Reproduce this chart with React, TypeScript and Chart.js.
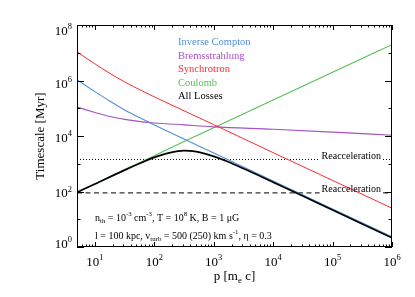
import React, { useEffect, useRef } from 'react';
import { Chart, registerables } from 'chart.js';

Chart.register(...registerables);

// ---- data (timescales in Myr vs momentum p in m_e c) ----
const RAD_P = [5, 10, 17.8, 31.6, 63.1, 100, 316, 1000, 1e4, 1e5, 1e6];
const SYNC_T = [1.07e7, 3.98e6, 1.82e6, 8.9e5, 4.17e5, 2.57e5, 8.1e4, 2.57e4, 2.51e3, 251, 25.1];
const IC_T = [1.05e6, 3.98e5, 1.82e5, 8.7e4, 4.07e4, 2.51e4, 7.76e3, 2.45e3, 240, 23.4, 2.34];
const BREMS_T = [1.1e5, 7.08e4, 5.01e4, 3.98e4, 3.24e4, 2.95e4, 2.51e4, 2.14e4, 1.74e4, 1.38e4, 1.07e4];
const COUL_P = [5, 10, 31.6, 100, 316, 1000, 1e4, 1e5, 1e6];
const COUL_T = [93, 188, 603, 1950, 6310, 2.0e4, 2.0e5, 2.0e6, 1.95e7];
const ALL_P = [5, 10, 31.6, 63.1, 100, 126, 178, 251, 316, 398, 562, 1000, 1778, 3162, 1e4, 3.16e4, 1e5, 3.16e5, 1e6];
const ALL_T = [93, 186, 589, 1130, 1694, 2010, 2477, 2843, 2951, 2897, 2612, 1841, 1148, 670, 216, 68.4, 21.4, 6.78, 2.14];
const REACC_FAST = 89;
const REACC_SLOW = 1430;
const X_RANGE = [5, 1e6];
const Y_RANGE = [1, 1e8];
const X_LABEL_EXP = [1, 2, 3, 4, 5, 6];
const Y_LABEL_EXP = [0, 2, 4, 6, 8];
const LEGEND_LABELS = ['Inverse Compton', 'Bremsstrahlung', 'Synchrotron', 'Coulomb', 'All Losses'];

const C_IC = '#4f8fd6';
const C_BREMS = '#a552c2';
const C_SYNC = '#ff2a2a';
const C_COUL = '#55c055';
const C_ALL = '#000000';
const LEGEND_COLORS = [C_IC, C_BREMS, C_SYNC, C_COUL, C_ALL];

const FONT = '"Liberation Serif", "Times New Roman", serif';

type Seg = [string, 'n' | 'sup' | 'sub'];

function drawRich(
  ctx: CanvasRenderingContext2D,
  segs: Seg[],
  x: number,
  y: number,
  size: number,
  align: 'left' | 'center' | 'right',
  color: string,
  small = 0.68,
  raise = 0.42,
  drop = 0.25
) {
  ctx.save();
  ctx.fillStyle = color;
  ctx.textBaseline = 'alphabetic';
  ctx.textAlign = 'left';
  const fontFor = (k: string) => `${k === 'n' ? size : size * small}px ${FONT}`;
  let total = 0;
  for (const [t, k] of segs) {
    ctx.font = fontFor(k);
    total += ctx.measureText(t).width;
  }
  let cx = align === 'left' ? x : align === 'center' ? x - total / 2 : x - total;
  for (const [t, k] of segs) {
    ctx.font = fontFor(k);
    const dy = k === 'sup' ? -size * raise : k === 'sub' ? size * drop : 0;
    ctx.fillText(t, cx, y + dy);
    cx += ctx.measureText(t).width;
  }
  ctx.restore();
  return total;
}

const REACC_TEXT = 'Reacceleration';
const REACC_RIGHT = 381;
const REACC_SIZE = 10;

const overlay = {
  id: 'overlay',
  afterDatasetDraw(chart: any, args: any) {
    if (args.index !== 5 && args.index !== 6) return;
    const { ctx, scales } = chart;
    const val = args.index === 5 ? REACC_FAST : REACC_SLOW;
    const py = scales.y.getPixelForValue(val);
    ctx.save();
    ctx.font = `${REACC_SIZE}px ${FONT}`;
    const w = ctx.measureText(REACC_TEXT).width;
    ctx.fillStyle = '#ffffff';
    ctx.fillRect(REACC_RIGHT - w - 2, py - 9, w + 4, 10.5);
    ctx.restore();
  },
  afterDraw(chart: any) {
    const { ctx, chartArea: a, scales } = chart;
    const xs = scales.x;
    const ys = scales.y;
    ctx.save();
    ctx.strokeStyle = '#000';
    ctx.lineWidth = 1;
    // frame
    ctx.strokeRect(a.left + 0.5, a.top + 0.5, a.right - a.left - 1, a.bottom - a.top - 1);
    // x ticks
    ctx.beginPath();
    for (let n = 0; n <= 6; n++) {
      for (let m = 1; m <= 9; m++) {
        const v = m * Math.pow(10, n);
        if (v < X_RANGE[0] || v > X_RANGE[1]) continue;
        const px = Math.round(xs.getPixelForValue(v)) + 0.5;
        const len = m === 1 ? 5 : 2.5;
        ctx.moveTo(px, a.bottom);
        ctx.lineTo(px, a.bottom - len);
        ctx.moveTo(px, a.top);
        ctx.lineTo(px, a.top + len);
      }
    }
    // y ticks
    for (let n = 0; n <= 8; n++) {
      const py = Math.round(ys.getPixelForValue(Math.pow(10, n))) + 0.5;
      const len = n % 2 === 0 ? 7 : 3.5;
      ctx.moveTo(a.left, py);
      ctx.lineTo(a.left + len, py);
      ctx.moveTo(a.right, py);
      ctx.lineTo(a.right - len, py);
    }
    ctx.stroke();

    // x tick labels
    for (const n of X_LABEL_EXP) {
      const px = xs.getPixelForValue(Math.pow(10, n));
      drawRich(ctx, [['10', 'n'], [String(n), 'sup']], px, 266, 13, 'center', '#000', 0.65, 0.45);
    }
    // y tick labels
    const yOff: Record<number, number> = { 8: 9.7, 6: 7, 4: 5.7, 2: 5.7, 0: 0.7 };
    for (const n of Y_LABEL_EXP) {
      const py = ys.getPixelForValue(Math.pow(10, n));
      drawRich(ctx, [['10', 'n'], [String(n), 'sup']], 72, py + yOff[n], 13, 'right', '#000', 0.65, 0.42);
    }

    // axis titles
    drawRich(ctx, [['p [m', 'n'], ['e', 'sub'], [' c]', 'n']], (a.left + a.right) / 2, 280, 13, 'center', '#000', 0.68, 0.42, 0.22);
    ctx.save();
    ctx.translate(44, (a.top + a.bottom) / 2);
    ctx.rotate(-Math.PI / 2);
    ctx.font = `13px ${FONT}`;
    ctx.fillStyle = '#000';
    ctx.textAlign = 'center';
    ctx.textBaseline = 'alphabetic';
    ctx.fillText('Timescale [Myr]', 0, 0);
    ctx.restore();

    // legend
    LEGEND_LABELS.forEach((lab, i) => {
      drawRich(ctx, [[lab, 'n']], 178, 45 + i * 13.5, 10.5, 'left', LEGEND_COLORS[i]);
    });

    // reacceleration labels
    for (const val of [REACC_SLOW, REACC_FAST]) {
      const py = ys.getPixelForValue(val);
      drawRich(ctx, [[REACC_TEXT, 'n']], REACC_RIGHT, py - 0.5, REACC_SIZE, 'right', '#000');
    }

    // parameter annotations
    drawRich(
      ctx,
      [
        ['n', 'n'], ['th', 'sub'], [' = 10', 'n'], ['-3', 'sup'], [' cm', 'n'], ['-3', 'sup'],
        [', T = 10', 'n'], ['8', 'sup'], [' K, B = 1 \u03bcG', 'n'],
      ],
      95, 220.5, 10, 'left', '#000', 0.68, 0.42, 0.28
    );
    drawRich(
      ctx,
      [
        ['l = 100 kpc, v', 'n'], ['turb', 'sub'], [' = 500 (250) km s', 'n'], ['-1', 'sup'],
        [', \u03b7 = 0.3', 'n'],
      ],
      95, 238.5, 10, 'left', '#000', 0.68, 0.42, 0.28
    );
    ctx.restore();
  },
};

function pts(px: number[], py: number[]) {
  return px.map((p, i) => ({ x: p, y: py[i] }));
}

export default function App() {
  const ref = useRef<HTMLCanvasElement | null>(null);
  useEffect(() => {
    if (!ref.current) return;
    const common = { pointRadius: 0, fill: false, cubicInterpolationMode: 'monotone' as const };
    const chart = new Chart(ref.current, {
      type: 'line',
      data: {
        datasets: [
          { ...common, label: 'All Losses', data: pts(ALL_P, ALL_T), borderColor: C_ALL, borderWidth: 1.7 },
          { ...common, label: 'Synchrotron', data: pts(RAD_P, SYNC_T), borderColor: C_SYNC, borderWidth: 1 },
          { ...common, label: 'Inverse Compton', data: pts(RAD_P, IC_T), borderColor: C_IC, borderWidth: 1.1 },
          { ...common, label: 'Bremsstrahlung', data: pts(RAD_P, BREMS_T), borderColor: C_BREMS, borderWidth: 1.1 },
          { ...common, label: 'Coulomb', data: pts(COUL_P, COUL_T), borderColor: C_COUL, borderWidth: 1.1 },
          {
            ...common, label: 'Reacc fast',
            data: pts(X_RANGE, [REACC_FAST, REACC_FAST]),
            borderColor: '#000', borderWidth: 1, borderDash: [5, 3.5],
          },
          {
            ...common, label: 'Reacc slow',
            data: pts(X_RANGE, [REACC_SLOW, REACC_SLOW]),
            borderColor: '#000', borderWidth: 1, borderDash: [1, 2],
          },
        ],
      },
      options: {
        responsive: false,
        animation: false,
        devicePixelRatio: 1,
        layout: { padding: { left: 77, right: 23, top: 25, bottom: 50 } },
        plugins: { legend: { display: false }, tooltip: { enabled: false } },
        scales: {
          x: { type: 'logarithmic', min: X_RANGE[0], max: X_RANGE[1], display: false },
          y: { type: 'logarithmic', min: Y_RANGE[0], max: Y_RANGE[1], display: false },
        },
      },
      plugins: [overlay],
    });
    return () => chart.destroy();
  }, []);
  return (
    <div style={{ position: 'fixed', left: 0, top: 0, width: 415, height: 297, background: '#fff' }}>
      <canvas ref={ref} width={415} height={297} style={{ display: 'block' }} />
    </div>
  );
}
